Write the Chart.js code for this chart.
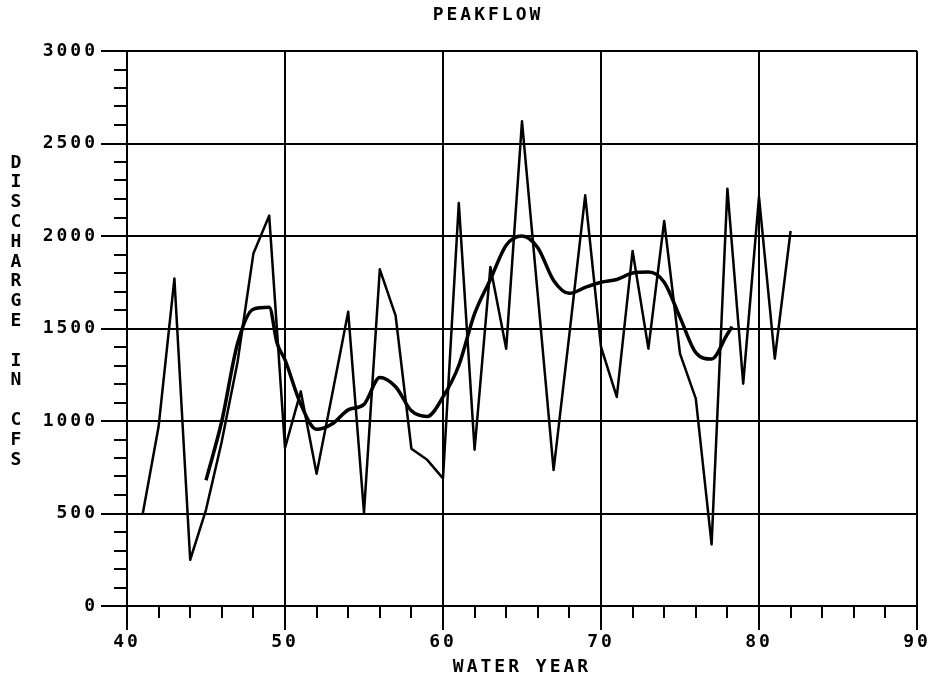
<!DOCTYPE html>
<html>
<head>
<meta charset="utf-8">
<script src="https://cdn.jsdelivr.net/npm/chart.js@4"></script>
<style>
  html, body { margin: 0; padding: 0; background: #fff; }
</style>
</head>
<body>
<canvas id="peakflow_chart" width="938" height="682"></canvas>
<script>
// -- DATA -- //
const chart_title = "PEAKFLOW";
const x_title = "WATER YEAR";
const y_title = "DISCHARGE IN CFS";

// annual peak discharge (cfs)
const peak_years = [41, 42, 43, 44, 45, 46, 47, 48, 49, 50,
                    51, 52, 53, 54, 55, 56, 57, 58, 59, 60,
                    61, 62, 63, 64, 65, 66, 67, 68, 69, 70,
                    71, 72, 73, 74, 75, 76, 77, 78, 79, 80,
                    81, 82];
const peak_cfs = [500, 970, 1770, 250, 520, 890, 1320, 1905, 2110, 855,
                  1160, 715, 1150, 1590, 505, 1820, 1570, 850, 790, 690,
                  2178, 845, 1833, 1391, 2620, 1680, 735, 1470, 2220, 1400,
                  1130, 1919, 1391, 2081, 1364, 1121, 333, 2256, 1202, 2211,
                  1337, 2027];

// smoothed curve
const smooth_years = [45, 46, 47, 48, 49, 49.5, 50, 51, 52, 53, 54,
                      55, 56, 57, 58, 59, 60, 61, 62, 63, 64,
                      65, 66, 67, 68, 69, 70, 71, 72, 73, 74,
                      75, 76, 77, 78, 78.3];
const smooth_cfs = [680, 1000, 1420, 1605, 1615, 1420, 1330, 1090, 955, 985, 1060,
                    1090, 1235, 1185, 1055, 1025, 1130, 1300, 1580, 1765, 1950,
                    2000, 1937, 1760, 1690, 1722, 1750, 1765, 1800, 1805, 1750,
                    1560, 1370, 1335, 1470, 1510];

const x_min = 40, x_max = 90, x_major = 10, x_minor = 2;
const y_min = 0, y_max = 3000, y_major = 500, y_minor = 100;

// -- STYLE -- //
const PEN = "#000";
const LETTER_GAP = "3px";
const FONT = { family: "'DejaVu Sans Mono'", size: 18, weight: "bold" };

function to_points(xs, ys) {
    let pts = [];
    for (let i = 0; i < xs.length; i++) {
        pts.push({ x: xs[i], y: ys[i] });
    }
    return pts;
}

// minor ticks, stacked y title and the header, drawn like a pen plotter
const plotter_marks = {
    id: "plotter_marks",
    beforeUpdate(chart) { chart.ctx.letterSpacing = LETTER_GAP; },
    beforeDraw(chart) { chart.ctx.letterSpacing = LETTER_GAP; },
    afterDraw(chart) {
        const ctx = chart.ctx;
        const xs = chart.scales.x;
        const ys = chart.scales.y;
        ctx.save();
        ctx.strokeStyle = PEN;
        ctx.lineWidth = 2;
        ctx.beginPath();
        for (let v = y_min + y_minor; v < y_max; v += y_minor) {
            if (v % y_major === 0) { continue; }
            const py = Math.round(ys.getPixelForValue(v));
            ctx.moveTo(xs.left - 13, py);
            ctx.lineTo(xs.left, py);
        }
        for (let v = x_min + x_minor; v < x_max; v += x_minor) {
            if (v % x_major === 0) { continue; }
            const px = Math.round(xs.getPixelForValue(v));
            ctx.moveTo(px, ys.bottom);
            ctx.lineTo(px, ys.bottom + 12);
        }
        ctx.stroke();

        ctx.fillStyle = PEN;
        ctx.font = "bold 18px 'DejaVu Sans Mono'";
        ctx.letterSpacing = LETTER_GAP;
        ctx.textAlign = "center";
        ctx.textBaseline = "middle";
        ctx.fillText(chart_title, 488, 15);

        ctx.letterSpacing = "0px";
        for (let i = 0; i < y_title.length; i++) {
            ctx.fillText(y_title[i], 16, 163 + i * 19.8);
        }
        ctx.restore();
    }
};

const ctx = document.getElementById("peakflow_chart").getContext("2d");

let peakflow_chart = new Chart(ctx, {
    type: "line",
    data: {
        datasets: [
            {
                label: "Peak flow",
                data: to_points(peak_years, peak_cfs),
                borderColor: PEN,
                borderWidth: 2.5,
                borderJoinStyle: "round",
                pointRadius: 0,
                tension: 0
            },
            {
                label: "Smoothed",
                data: to_points(smooth_years, smooth_cfs),
                borderColor: PEN,
                borderWidth: 3.5,
                pointRadius: 0,
                cubicInterpolationMode: "monotone"
            }
        ]
    },
    options: {
        responsive: false,
        animation: false,
        devicePixelRatio: 1,
        layout: { padding: { left: 0, right: 21, top: 51, bottom: 0 } },
        plugins: {
            legend: { display: false },
            tooltip: { enabled: false },
            title: { display: false }
        },
        scales: {
            x: {
                type: "linear",
                min: x_min,
                max: x_max,
                ticks: { stepSize: x_major, color: PEN, font: FONT, padding: 2, maxRotation: 0 },
                grid: { color: PEN, lineWidth: 2, tickLength: 24 },
                border: { color: PEN, width: 2 },
                title: { display: true, text: x_title, color: PEN, font: FONT, padding: { top: 0, bottom: 4 } },
                afterFit: function (scale) { scale.height = 76; }
            },
            y: {
                min: y_min,
                max: y_max,
                ticks: {
                    stepSize: y_major, color: PEN, font: FONT, padding: 3,
                    callback: function (value) { return String(value); }
                },
                grid: { color: PEN, lineWidth: 2, tickLength: 26 },
                border: { color: PEN, width: 2 },
                afterFit: function (scale) { scale.width = 127; }
            }
        }
    },
    plugins: [plotter_marks]
});
</script>
</body>
</html>
